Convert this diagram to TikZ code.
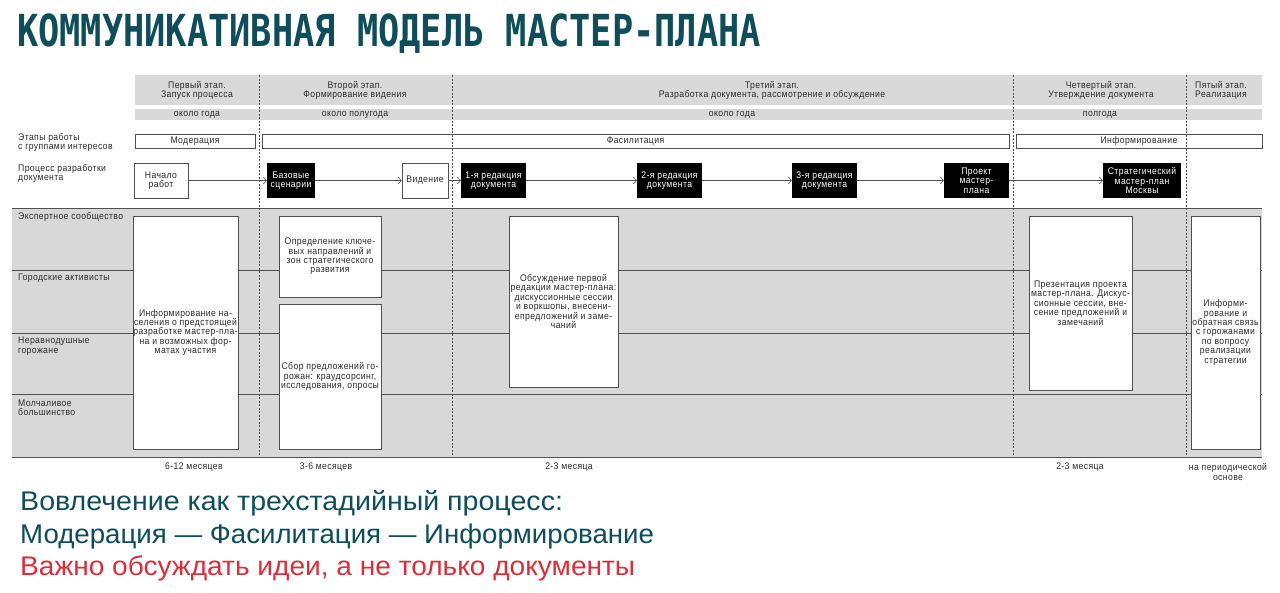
\documentclass[tikz,border=0pt]{standalone}
\usepackage{fontspec}
\setmainfont{Liberation Sans}[FakeStretch=0.9, LetterSpace=4]
\newfontfamily\titlefont{DejaVu Sans Mono}
\newfontfamily\bigfont{Liberation Sans}[FakeStretch=1.04]
\usetikzlibrary{arrows.meta}
\definecolor{teal}{HTML}{0E4D59}
\definecolor{redtxt}{HTML}{D6303C}
\definecolor{band}{HTML}{D9D9D9}
\definecolor{area}{HTML}{D8D8D8}
\definecolor{ink}{HTML}{2B2B2B}
\definecolor{rule}{HTML}{505050}
\tikzset{
  sm/.style={inner sep=0pt, text=ink, align=center, font=\fontsize{9.6}{9.4}\selectfont},
  lbl/.style={sm, anchor=west, align=left},
  wbox/.style={sm, draw=rule, fill=white, line width=0.8pt, inner sep=0pt},
  bbox/.style={sm, fill=black, text=white, inner sep=0pt},
  flow/.style={draw=rule, line width=0.6pt, -{Straight Barb[length=3pt,width=7pt]}},
  sep/.style={draw=rule, line width=0.9pt},
  vdash/.style={draw=rule, line width=0.7pt, dash pattern=on 2pt off 1.5pt},
  big/.style={inner sep=0pt, anchor=base west, font=\bigfont\fontsize{27}{27}\selectfont},
}
\begin{document}
\begin{tikzpicture}[x=1pt,y=-1pt]
\useasboundingbox (0,0) rectangle (1280,592);
% title
\node[anchor=base west, inner sep=0pt, text=teal] (title) at (17,46)
  {\scalebox{1}[1.25]{\titlefont\bfseries\fontsize{35.3}{35}\selectfont КОММУНИКАТИВНАЯ МОДЕЛЬ МАСТЕР-ПЛАНА}};
% header bands
\fill[band] (135,75) rectangle (1262,105);
\fill[band] (135,109) rectangle (1262,120);
\node[sm] (s1) at (197,90.5) {Первый этап.\\Запуск процесса};
\node[sm] (s2) at (355,90.5) {Второй этап.\\Формирование видения};
\node[sm] (s3) at (772,90.5) {Третий этап.\\Разработка документа, рассмотрение и обсуждение};
\node[sm] (s4) at (1101,90.5) {Четвертый этап.\\Утверждение документа};
\node[sm] (s5) at (1221,90.5) {Пятый этап.\\Реализация};
\node[sm] (d1) at (197,114.5) {около года};
\node[sm] (d2) at (355,114.5) {около полугода};
\node[sm] (d3) at (732,114.5) {около года};
\node[sm] (d4) at (1100,114.5) {полгода};
% left labels
\node[lbl] (l1) at (18,142.5) {Этапы работы\\с группами интересов};
\node[lbl] (l2) at (18,173.5) {Процесс разработки\\документа};
% gray area
\fill[area] (12,208) rectangle (1262,457);
\foreach \yy in {208,270,333,394,457} \draw[sep] (12,\yy) -- (1262,\yy);
\node[lbl] (r1) at (18,217) {Экспертное сообщество};
\node[lbl] (r2) at (18,278.5) {Городские активисты};
\node[lbl] (r3) at (18,346) {Неравнодушные\\горожане};
\node[lbl] (r4) at (18,408) {Молчаливое\\большинство};
% work stage boxes
\node[wbox, minimum width=120pt, minimum height=14pt] (mod) at (195,141) {Модерация};
\node[wbox, minimum width=747pt, minimum height=14pt] (fac) at (635.5,141) {Фасилитация};
\node[wbox, minimum width=246pt, minimum height=14pt] (inf) at (1139,141) {Информирование};
% process boxes
\node[wbox, minimum width=54pt, minimum height=35pt] (p0) at (161,180.5) {Начало\\работ};
\node[bbox, minimum width=48pt, minimum height=35pt] (p1) at (291,180.5) {Базовые\\сценарии};
\node[wbox, minimum width=46pt, minimum height=35pt] (p2) at (425,180.5) {Видение};
\node[bbox, minimum width=65pt, minimum height=35pt] (p3) at (493.5,180.5) {1-я редакция\\документа};
\node[bbox, minimum width=65pt, minimum height=35pt] (p4) at (669.5,180.5) {2-я редакция\\документа};
\node[bbox, minimum width=65pt, minimum height=35pt] (p5) at (824.5,180.5) {3-я редакция\\документа};
\node[bbox, minimum width=65pt, minimum height=35pt] (p6) at (976.5,180.5) {Проект\\мастер-\\плана};
\node[bbox, minimum width=78pt, minimum height=35pt] (p7) at (1142,180.5) {Стратегический\\мастер-план\\Москвы};
\draw[flow] (p0) -- (p1);
\draw[flow] (p1) -- (p2);
\draw[flow] (p2) -- (p3);
\draw[flow] (p3) -- (p4);
\draw[flow] (p4) -- (p5);
\draw[flow] (p5) -- (p6);
\draw[flow] (p6) -- (p7);
% big boxes
\node[wbox, minimum width=105pt, minimum height=233pt] (g1) at (185.5,332.5)
  {Информирование на-\\селения о предстоящей\\разработке мастер-пла-\\на и возможных фор-\\матах участия};
\node[wbox, minimum width=102pt, minimum height=81pt] (g2) at (330,256.5)
  {Определение ключе-\\вых направлений и\\зон стратегического\\развития};
\node[wbox, minimum width=102pt, minimum height=145pt] (g3) at (330,376.5)
  {Сбор предложений го-\\рожан: краудсорсинг,\\исследования, опросы};
\node[wbox, minimum width=109pt, minimum height=171pt] (g4) at (563.5,301.5)
  {Обсуждение первой\\редакции мастер-плана:\\дискуссионные сессии\\и воркшопы, внесени-\\епредложений и заме-\\чаний};
\node[wbox, minimum width=103pt, minimum height=174pt] (g5) at (1080.5,303)
  {Презентация проекта\\мастер-плана. Дискус-\\сионные сессии, вне-\\сение предложений и\\замечаний};
\node[wbox, minimum width=69pt, minimum height=233pt] (g6) at (1225.5,332.5)
  {Информи-\\рование и\\обратная связь\\с горожанами\\по вопросу\\реализации\\стратегии};
% dashed stage separators
\foreach \xx in {259,452,1013,1186} \draw[vdash] (\xx,75) -- (\xx,457);
% durations
\node[sm] (t1) at (194,467) {6-12 месяцев};
\node[sm] (t2) at (326,467) {3-6 месяцев};
\node[sm] (t3) at (569,467) {2-3 месяца};
\node[sm] (t4) at (1080,467) {2-3 месяца};
\node[sm] (t5) at (1228,472) {на периодической\\основе};
% bottom statements
\node[big, text=teal] (b1) at (20,510) {\scalebox{1.018}[1]{Вовлечение как трехстадийный процесс:}};
\node[big, text=teal] (b2) at (20,543) {\scalebox{0.985}[1]{Модерация — Фасилитация — Информирование}};
\node[big, text=redtxt] (b3) at (20,575) {Важно обсуждать идеи, а не только документы};
\end{tikzpicture}
\end{document}
